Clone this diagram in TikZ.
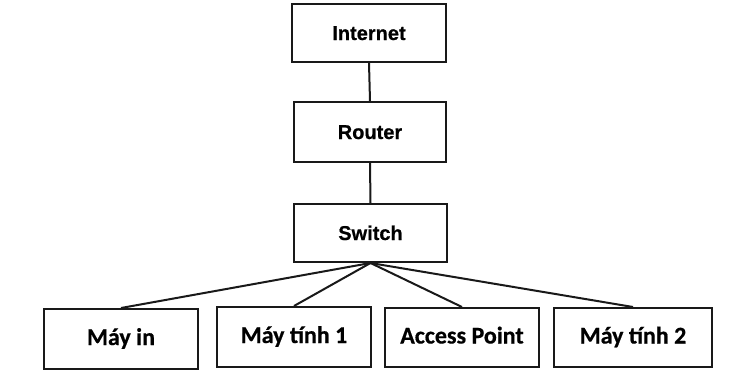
\documentclass[tikz,border=0pt]{standalone}
\usepackage{fontspec}
\setmainfont{Liberation Sans}[BoldFeatures={FakeBold=0.6}]
\newfontfamily\calfont{Carlito}[BoldFeatures={FakeBold=0.6}]
\begin{document}
\begin{tikzpicture}[x=1pt,y=-1pt,
  box/.style={draw=black!90, line width=2pt, minimum height=58pt, inner sep=0pt, fill=white},
  toplbl/.style={font=\fontsize{20}{23}\selectfont\bfseries, text height=15pt, text depth=1pt},
  botlbl/.style={font=\calfont\fontsize{24}{27}\selectfont\bfseries, text height=17pt, text depth=5pt},
  link/.style={draw=black!90, line width=2pt}]
\useasboundingbox (0,0) rectangle (756,380);
\node[box, toplbl, minimum width=154pt] (internet) at (369,33) {Internet};
\node[box, toplbl, minimum width=152pt, minimum height=60pt] (router) at (370,132) {Router};
\node[box, toplbl, minimum width=153pt] (switch) at (370.5,233) {Switch};
\node[box, botlbl, minimum width=154pt, minimum height=60pt] (mayin) at (121,339) {Máy in};
\node[box, botlbl, minimum width=154pt, minimum height=60pt] (mt1) at (294,337) {Máy tính 1};
\node[box, botlbl, minimum width=154pt, minimum height=59pt] (ap) at (462,337.5) {Access Point};
\node[box, botlbl, minimum width=158pt, minimum height=59pt] (mt2) at (633,337.5) {Máy tính 2};
\draw[link] (internet.south) -- (router.north);
\draw[link] (router.south) -- (switch.north);
\draw[link] (switch.south) -- (mayin.north);
\draw[link] (switch.south) -- (mt1.north);
\draw[link] (switch.south) -- (ap.north);
\draw[link] (switch.south) -- (mt2.north);
\end{tikzpicture}
\end{document}
